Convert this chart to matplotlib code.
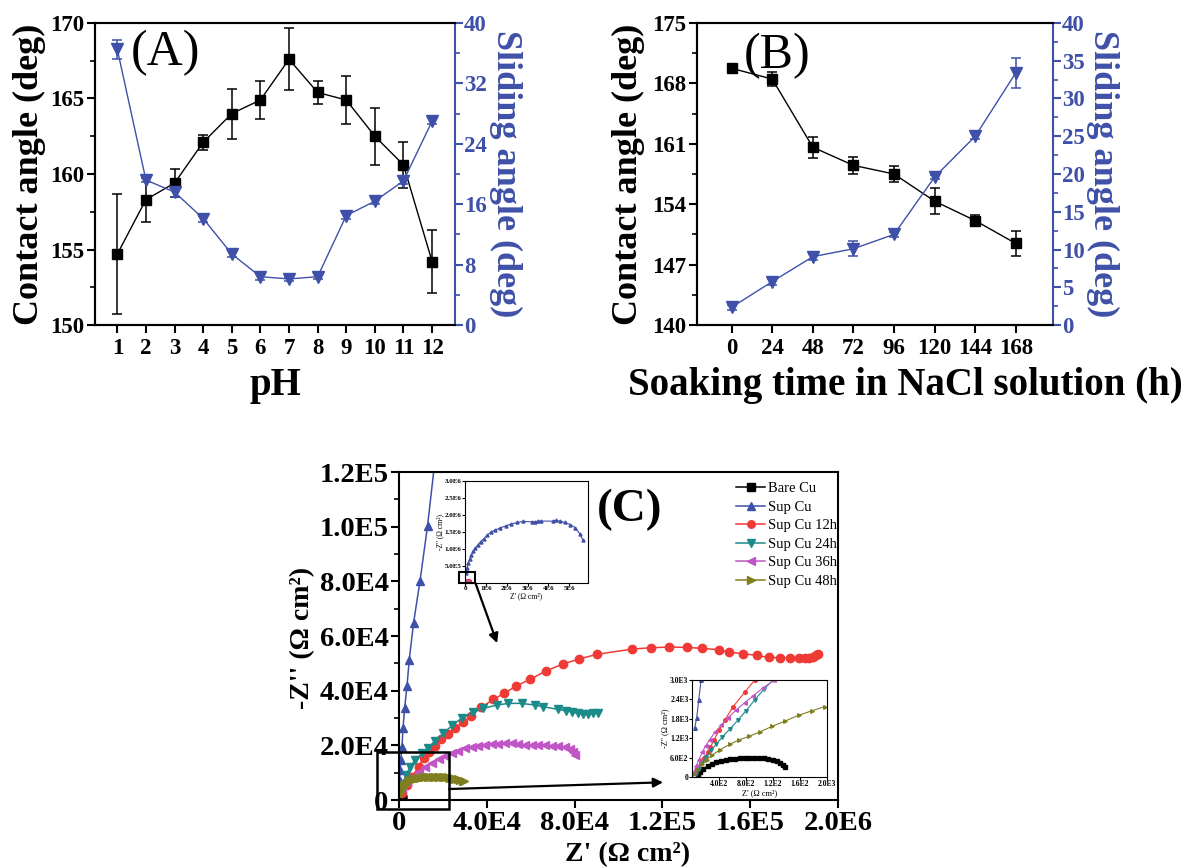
import numpy as np
import matplotlib
matplotlib.use('Agg')
import matplotlib.pyplot as plt
from matplotlib.patches import Rectangle, ConnectionPatch
from matplotlib.ticker import MultipleLocator, FixedLocator, FixedFormatter

plt.rcParams['font.family'] = ['Liberation Serif', 'DejaVu Serif']
plt.rcParams['font.weight'] = 'bold'
plt.rcParams['axes.linewidth'] = 1.5

BLUE = '#3f50a8'
RED = '#f03a35'
TEAL = '#1b8a8a'
MAGENTA = '#c055c5'
OLIVE = '#7f7f22'

# ---- panel A: contact / sliding angle vs pH
ph = np.arange(1, 13)
ca_ph = [154.7, 158.3, 159.4, 162.1, 164.0, 164.9, 167.6, 165.4, 164.9, 162.5, 160.6, 154.2]
ca_ph_err = [4.0, 1.45, 0.95, 0.5, 1.65, 1.25, 2.05, 0.75, 1.6, 1.9, 1.5, 2.1]
sa_ph = [36.5, 19.2, 17.6, 14.1, 9.4, 6.4, 6.1, 6.4, 14.5, 16.4, 19.1, 27.0]
sa_ph_err = [1.3, 0.3, 0.6, 0.4, 0.4, 0.4, 0.3, 0.3, 0.4, 0.4, 0.4, 0.4]

# ---- panel B: contact / sliding angle vs soaking time
soak_h = [0, 24, 48, 72, 96, 120, 144, 168]
ca_t = [169.75, 168.5, 160.6, 158.5, 157.5, 154.35, 152.1, 149.45]
ca_t_err = [0.3, 0.85, 1.2, 0.95, 0.95, 1.5, 0.6, 1.45]
sa_t = [2.35, 5.75, 9.05, 10.1, 12.0, 19.6, 25.0, 33.4]
sa_t_err = [0.3, 0.4, 0.4, 1.0, 0.3, 0.3, 0.4, 2.0]

# ---- panel C: Nyquist plots (main scale)
sup_x = [150, 300, 500, 730, 1360, 1820, 2550, 3640, 4680, 6640, 9600, 13000, 16500]
sup_y = [3000, 7000, 11000, 14600, 19500, 26200, 33500, 41700, 51400, 64800, 80300, 100300, 125000]

s12_x = [1360, 3640, 5900, 8920, 11200, 13450, 16180, 19090, 22270, 25590, 29090, 32860,
         37400, 43000, 47860, 53310, 59680, 66810, 74540, 81950, 89990, 106320, 114840,
         123050, 131110, 138260, 145560, 150120, 156660, 163050, 168370, 173700, 178260,
         182060, 184800, 186630, 188450, 189970, 190880]
s12_y = [2440, 5480, 8530, 12190, 15230, 17670, 19740, 22300, 24130, 26200, 28400, 30710,
         33880, 36800, 39000, 41680, 44120, 47160, 49720, 51550, 53260, 55220, 55710,
         55950, 55830, 55460, 54980, 54120, 53510, 52900, 52170, 52050, 51930,
         51810, 51930, 52050, 52420, 52900, 53390]

s24_x = [1640, 3180, 5140, 7410, 10450, 13180, 16500, 20270, 24360, 28910, 33910, 38450,
         44540, 49810, 55900, 61950, 65720, 72540, 75900, 78630, 81630, 83900, 86180,
         88450, 90500]
s24_y = [5480, 9140, 12190, 14620, 17070, 18890, 21690, 24380, 27420, 30100, 32290, 33520,
         34730, 35350, 35350, 34730, 34120, 33150, 32660, 32290, 31690, 31330, 31440,
         31690, 31900]

s36_x = [1360, 3640, 5900, 8910, 11950, 15000, 18000, 21040, 24090, 27090, 30130, 33180,
         36180, 39220, 42270, 45270, 48310, 51360, 54360, 57400, 60450, 63450, 66500,
         69540, 72540, 75590, 77860, 79370, 80140]
s36_y = [4270, 6700, 8530, 10360, 12190, 13650, 14870, 16090, 17070, 18020, 18890, 19490,
         19740, 20220, 20470, 20470, 20730, 20730, 20470, 20220, 20220, 20000, 20000,
         19740, 19740, 19260, 18520, 17670, 16450]

s48_x = [136, 600, 1045, 1550, 2090, 2800, 3640, 4400, 5140, 6200, 7410, 8500, 9680, 10800,
         11950, 13100, 14230, 15400, 16500, 17600, 18770, 19900, 21040, 22200, 23320, 24500,
         25590, 26700, 27860, 29000, 29820]
s48_y = [1830, 2800, 3660, 4450, 5120, 5750, 6340, 6800, 7190, 7520, 7800, 8000, 8170, 8300,
         8410, 8480, 8530, 8550, 8530, 8540, 8530, 8480, 8410, 8300, 8170, 8000,
         7800, 7600, 7310, 7100, 6820]

# ---- inset 1: Sup Cu full scale (units of 1E6)
supL_x = [0.05, 0.1, 0.15, 0.22, 0.3, 0.4, 0.5, 0.62, 0.75, 0.9, 1.05, 1.25, 1.45, 1.7, 1.95,
          2.2, 2.5, 2.8, 3.2, 3.35, 3.5, 3.65, 4.2, 4.35, 4.55, 4.8, 5.05, 5.3, 5.5, 5.65]
supL_y = [0.3, 0.45, 0.58, 0.7, 0.82, 0.93, 1.03, 1.12, 1.22, 1.3, 1.4, 1.5, 1.56, 1.62, 1.68,
          1.73, 1.78, 1.81, 1.8, 1.8, 1.82, 1.82, 1.82, 1.84, 1.82, 1.78, 1.72, 1.62, 1.45, 1.27]

# ---- inset 2: low impedance region
bare_x = [90, 120, 170, 230, 290, 360, 430, 500, 570, 640, 710, 780, 850, 920, 990, 1060,
          1130, 1200, 1260, 1310, 1350, 1380]
bare_y = [50, 150, 260, 340, 400, 450, 490, 520, 545, 565, 580, 590, 595, 595, 590, 580,
          560, 530, 490, 440, 380, 320]
supS_x = [40, 70, 100, 135, 200]
supS_y = [1510, 1840, 2390, 3000, 4000]
s12S_x = [40, 80, 130, 180, 230, 270, 330, 400, 490, 600, 780, 930]
s12S_y = [120, 250, 430, 600, 760, 920, 1150, 1450, 1770, 2150, 2620, 3000]
s24S_x = [60, 100, 150, 210, 280, 360, 450, 560, 680, 800, 930, 1070, 1200]
s24S_y = [100, 250, 430, 620, 820, 1020, 1240, 1480, 1760, 2050, 2390, 2720, 3000]
s36S_x = [30, 60, 100, 150, 200, 260, 340, 430, 530, 650, 780, 900, 1050, 1220]
s36S_y = [150, 330, 530, 760, 960, 1150, 1380, 1600, 1830, 2060, 2300, 2500, 2750, 3000]
s48S_x = [30, 80, 150, 220, 300, 420, 560, 700, 850, 1000, 1190, 1380, 1580, 1780, 1970]
s48S_y = [80, 230, 400, 540, 680, 850, 1010, 1150, 1260, 1390, 1570, 1730, 1910, 2050, 2180]

fig = plt.figure(figsize=(11.98, 8.68), dpi=100)
W, H = 1198.0, 868.0


def px_axes(l, t, r, b):
    return fig.add_axes([l / W, 1 - b / H, (r - l) / W, (b - t) / H])


def style(ax, size, length=6, pad=1.5):
    ax.tick_params(direction='out', length=length, width=1.5, labelsize=size, pad=pad)
    ax.tick_params(which='minor', direction='out', length=length * 0.55, width=1.2)


def angle_panel(ax, x, ca, ca_err, sa, sa_err, ylim_l, step_l, ylim_r, step_r):
    ax.errorbar(x, ca, yerr=ca_err, color='k', marker='s', ms=7, lw=1,
                capsize=3.5, elinewidth=1.1, capthick=1.1, zorder=3)
    ax.set_ylim(*ylim_l)
    ax.yaxis.set_major_locator(MultipleLocator(step_l))
    ax.yaxis.set_minor_locator(MultipleLocator(step_l / 2))
    ax.set_xticks(x)
    style(ax, 16.5)
    ax.tick_params(axis='x', pad=3)
    ax.spines['right'].set_visible(False)
    ax.set_ylabel('Contact angle (deg)', fontsize=26, fontweight='bold',
                  va='center', ha='center')
    ax2 = ax.twinx()
    ax2.errorbar(x, sa, yerr=sa_err, color=BLUE, marker='v', ms=8, lw=1,
                 capsize=3.5, elinewidth=1.1, capthick=1.1)
    ax2.set_ylim(*ylim_r)
    ax2.yaxis.set_major_locator(MultipleLocator(step_r))
    ax2.yaxis.set_minor_locator(MultipleLocator(step_r / 2))
    style(ax2, 16.5, pad=0.5)
    ax2.tick_params(axis='y', colors=BLUE, which='both')
    ax2.spines['right'].set_color(BLUE)
    ax2.set_ylabel('Sliding angle (deg)', fontsize=26, fontweight='bold', color=BLUE,
                   rotation=270, va='center', ha='center')
    return ax2


# panel A
axA = px_axes(95, 23, 455, 325)
axA2 = angle_panel(axA, ph, ca_ph, ca_ph_err, sa_ph, sa_ph_err, (150, 170), 5, (0, 40), 8)
axA.set_xlim(0.22, 12.8)
axA.set_xlabel('pH', fontsize=28, fontweight='bold', va='center')
axA.xaxis.set_label_coords(0.5, -0.2)
axA.yaxis.set_label_coords(-0.183, 0.5)
axA2.yaxis.set_label_coords(1.14, 0.5)
axA.text(0.195, 0.9, '(A)', transform=axA.transAxes, fontsize=36, fontweight='normal',
         ha='center', va='center')

# panel B
axB = px_axes(697, 23, 1053, 325)
axB2 = angle_panel(axB, soak_h, ca_t, ca_t_err, sa_t, sa_t_err, (140, 175), 7, (0, 40), 5)
axB.set_xlim(-20.5, 190)
axB.set_xlabel('Soaking time in NaCl solution (h)', fontsize=28, fontweight='bold', va='center')
axB.xaxis.set_label_coords(0.584, -0.2)
axB.yaxis.set_label_coords(-0.193, 0.5)
axB2.yaxis.set_label_coords(1.14, 0.5)
axB.text(0.225, 0.89, '(B)', transform=axB.transAxes, fontsize=36, fontweight='normal',
         ha='center', va='center')

# panel C main
axC = px_axes(399, 472, 838, 800)
series = [
    ('Bare Cu', 'k', 's', bare_x, bare_y, bare_x, bare_y),
    ('Sup Cu', BLUE, '^', sup_x, sup_y, supS_x, supS_y),
    ('Sup Cu 12h', RED, 'o', s12_x, s12_y, s12S_x, s12S_y),
    ('Sup Cu 24h', TEAL, 'v', s24_x, s24_y, s24S_x, s24S_y),
    ('Sup Cu 36h', MAGENTA, '<', s36_x, s36_y, s36S_x, s36S_y),
    ('Sup Cu 48h', OLIVE, '>', s48_x, s48_y, s48S_x, s48S_y),
]
for name, col, mk, x, y, _, _ in series:
    axC.plot(x, y, color=col, marker=mk, ms=6, lw=1.1, label=name)
axC.set_xlim(0, 2.0e5)
axC.set_ylim(0, 1.2e5)
axC.xaxis.set_major_locator(FixedLocator([0, 4e4, 8e4, 1.2e5, 1.6e5, 2.0e5]))
axC.xaxis.set_major_formatter(FixedFormatter(['0', '4.0E4', '8.0E4', '1.2E5', '1.6E5', '2.0E6']))
axC.yaxis.set_major_locator(FixedLocator([0, 2e4, 4e4, 6e4, 8e4, 1e5, 1.2e5]))
axC.yaxis.set_major_formatter(FixedFormatter(['0', '2.0E4', '4.0E4', '6.0E4', '8.0E4', '1.0E5', '1.2E5']))
axC.yaxis.set_minor_locator(MultipleLocator(1e4))
style(axC, 20.5)
axC.tick_params(axis='x', pad=2)
axC.set_xlabel("Z' (Ω cm²)", fontsize=20, fontweight='bold', va='center')
axC.set_ylabel("-Z'' (Ω cm²)", fontsize=20, fontweight='bold', va='center', ha='center')
axC.xaxis.set_label_coords(0.52, -0.168)
axC.yaxis.set_label_coords(-0.219, 0.494)
axC.text(0.526, 0.884, '(C)', transform=axC.transAxes, fontsize=34, fontweight='bold',
         ha='center', va='center')
axC.legend(loc='upper left', bbox_to_anchor=(0.745, 1.0), frameon=False,
           prop={'size': 10.5, 'weight': 'normal'}, handlelength=2.0, handletextpad=0.2,
           labelspacing=0.36, borderpad=0.2, markerscale=0.9)
axC.add_patch(Rectangle((-9860, -3290), 32720, 20840, fill=False, lw=1.8,
                        ec='k', clip_on=False, zorder=5))

# inset 1 (large scale Sup Cu)
in1 = px_axes(465, 481, 588, 583)
in1.plot(supL_x, supL_y, color=BLUE, marker='^', ms=2.2, lw=0.8)
for name, col, mk, x, y, _, _ in series[2:]:
    in1.plot(np.array(x) / 1e6, np.array(y) / 1e6, color=col, marker=mk, ms=2, lw=0.6)
in1.set_xlim(0, 5.9)
in1.set_ylim(0, 3.0)
in1.xaxis.set_major_locator(FixedLocator([0, 1, 2, 3, 4, 5, 6]))
in1.xaxis.set_major_formatter(FixedFormatter(['0', '1E6', '2E6', '3E6', '4E6', '5E6', '6E6']))
in1.yaxis.set_major_locator(FixedLocator([0.5, 1.0, 1.5, 2.0, 2.5, 3.0]))
in1.yaxis.set_major_formatter(FixedFormatter(['5.0E5', '1.0E6', '1.5E6', '2.0E6', '2.5E6', '3.0E6']))
in1.tick_params(direction='out', length=2, width=0.8, labelsize=5, pad=0.5)
for sp in in1.spines.values():
    sp.set_linewidth(0.8)
in1.set_xlabel("Z' (Ω cm²)", fontsize=5.5, labelpad=0.5)
in1.set_ylabel("-Z'' (Ω cm²)", fontsize=5.5, labelpad=0.5)
in1.add_patch(Rectangle((-0.31, -0.01), 0.81, 0.34, fill=False, lw=1.5, ec='k',
                        clip_on=False, zorder=5))

# inset 2 (low impedance)
in2 = px_axes(692, 680, 827, 777)
for name, col, mk, _, _, x, y in series:
    in2.plot(x, y, color=col, marker=mk, ms=2.6, lw=0.8)
in2.set_xlim(0, 2000)
in2.set_ylim(0, 3000)
in2.xaxis.set_major_locator(FixedLocator([400, 800, 1200, 1600, 2000]))
in2.xaxis.set_major_formatter(FixedFormatter(['4.0E2', '8.0E2', '1.2E2', '1.6E2', '2.0E3']))
in2.yaxis.set_major_locator(FixedLocator([0, 600, 1200, 1800, 2400, 3000]))
in2.yaxis.set_major_formatter(FixedFormatter(['0', '6.0E2', '1.2E3', '1.8E3', '2.4E3', '3.0E3']))
in2.tick_params(direction='out', length=2, width=0.8, labelsize=5.5, pad=0.5)
for sp in in2.spines.values():
    sp.set_linewidth(0.8)
in2.set_xlabel("Z' (Ω cm²)", fontsize=6, labelpad=0.5)
in2.set_ylabel("-Z'' (Ω cm²)", fontsize=6, labelpad=0.5)

# arrows from the zoom boxes
arr1 = ConnectionPatch(xyA=(0.5, 0.0), coordsA=in1.transData,
                       xyB=(44700, 57400), coordsB=axC.transData,
                       arrowstyle='-|>', mutation_scale=14, lw=1.6, color='k', zorder=6)
fig.add_artist(arr1)
arr2 = ConnectionPatch(xyA=(22860, 4020), coordsA=axC.transData,
                       xyB=(120300, 6470), coordsB=axC.transData,
                       arrowstyle='-|>', mutation_scale=14, lw=1.6, color='k', zorder=6)
fig.add_artist(arr2)

fig.savefig('out.png', dpi=100)
